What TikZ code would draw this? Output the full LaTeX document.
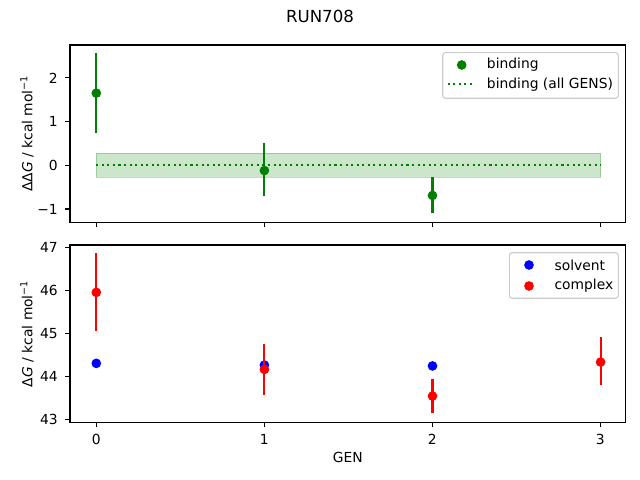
\documentclass[tikz,border=0pt]{standalone}
\usepackage{fontspec}
\setmainfont{DejaVu Sans}
\usetikzlibrary{positioning}
\definecolor{mplgreen}{HTML}{008000}
\definecolor{mplblue}{HTML}{0000FF}
\definecolor{mplred}{HTML}{FF0000}
\definecolor{legedge}{HTML}{CCCCCC}
\tikzset{%
	axframe/.style  = {line width=0.8pt, black},
	axtick/.style   = {line width=0.8pt, black},
	yticklab/.style = {anchor=east, inner sep=0pt, font=\fontsize{10}{12}\selectfont},
	xticklab/.style = {anchor=north, inner sep=0pt, font=\fontsize{10}{12}\selectfont},
	axlab/.style    = {inner sep=0pt, font=\fontsize{10}{12}\selectfont},
	errbar/.style   = {line width=1.5pt},
	datadot/.style  = {circle, fill, inner sep=0pt, minimum size=7pt},
	legbox/.style   = {draw=legedge, line width=0.8pt, rounded corners=2pt, fill=white, fill opacity=0.8},
	legtext/.style  = {anchor=west, inner sep=0pt, font=\fontsize{10}{12}\selectfont},
}

\begin{document}
\begin{tikzpicture}[x=0.01in, y=-0.01in]
	\useasboundingbox (0,0) rectangle (640,480);
	\node[axlab, font=\fontsize{12}{14}\selectfont] (title) at (320,16) {RUN708};
	
	% top panel: binding
	\begin{scope}[shift={(96.3,165.3)}, x=1.68in, y=0.437in]
		\draw[draw=mplgreen, fill=mplgreen, draw opacity=0.25, fill opacity=0.2] (0,-0.27) rectangle (3,0.27);
		\draw[mplgreen, line width=1.5pt, dash pattern=on 1.5pt off 2.5pt] (0,0) -- (3,0);
		\draw[errbar, mplgreen] (0,0.74) -- (0,2.56);
		\draw[errbar, mplgreen] (1,-0.70) -- (1,0.50);
		\draw[errbar, mplgreen] (2,-1.10) -- (2,-0.26);
		\node[datadot, mplgreen] (bind0) at (0,1.65) {};
		\node[datadot, mplgreen] (bind1) at (1,-0.12) {};
		\node[datadot, mplgreen] (bind2) at (2,-0.69) {};
	\end{scope}
	\draw[axframe] (70,45) rectangle (625.7,222.3);
	\draw[axtick] (96.3,222.3) -- ++(0,4.9);
	\draw[axtick] (264.3,222.3) -- ++(0,4.9);
	\draw[axtick] (432.3,222.3) -- ++(0,4.9);
	\draw[axtick] (600.3,222.3) -- ++(0,4.9);
	\draw[axtick] (70,77.9) -- ++(-4.9,0) node[yticklab, left=4.9pt] (tt2) {2};
	\draw[axtick] (70,121.6) -- ++(-4.9,0) node[yticklab, left=4.9pt] (tt1) {1};
	\draw[axtick] (70,165.3) -- ++(-4.9,0) node[yticklab, left=4.9pt] (tt0) {0};
	\draw[axtick] (70,209.0) -- ++(-4.9,0) node[yticklab, left=4.9pt] (ttm1) {−1};
	\node[axlab, rotate=90] (ylabtop) at (27,133.6) {ΔΔ\textit{G} / kcal mol\textsuperscript{−1}};
	
	\draw[legbox] (442.7,52.7) rectangle (618.3,98.3);
	\node[datadot, mplgreen] (legbind) at (461.7,65) {};
	\node[legtext] (legbindtxt) at (486.7,65) {binding};
	\draw[mplgreen, line width=1.5pt, dash pattern=on 1.5pt off 2.5pt] (447.7,84.3) -- (475,84.3);
	\node[legtext] (legalltxt) at (486.7,84.3) {binding (all GENS)};
	
	% bottom panel: solvent and complex
	\begin{scope}[shift={(96.3,419.3)}, x=1.68in, y=0.43in]
		\node[datadot, mplblue] (solv0) at (0,1.30) {};
		\node[datadot, mplblue] (solv1) at (1,1.26) {};
		\node[datadot, mplblue] (solv2) at (2,1.24) {};
		\draw[errbar, mplred] (0,2.06) -- (0,3.86);
		\draw[errbar, mplred] (1,0.57) -- (1,1.75);
		\draw[errbar, mplred] (2,0.14) -- (2,0.93);
		\draw[errbar, mplred] (3,0.79) -- (3,1.91);
		\node[datadot, mplred] (cplx0) at (0,2.95) {};
		\node[datadot, mplred] (cplx1) at (1,1.16) {};
		\node[datadot, mplred] (cplx2) at (2,0.54) {};
		\node[datadot, mplred] (cplx3) at (3,1.33) {};
	\end{scope}
	\draw[axframe] (70,245) rectangle (625.7,422.3);
	\draw[axtick] (96.3,422.3) -- ++(0,4.9) node[xticklab, below=4.9pt] (bt0) {0};
	\draw[axtick] (264.3,422.3) -- ++(0,4.9) node[xticklab, below=4.9pt] (bt1) {1};
	\draw[axtick] (432.3,422.3) -- ++(0,4.9) node[xticklab, below=4.9pt] (bt2) {2};
	\draw[axtick] (600.3,422.3) -- ++(0,4.9) node[xticklab, below=4.9pt] (bt3) {3};
	\draw[axtick] (70,247.3) -- ++(-4.9,0) node[yticklab, left=4.9pt] (by47) {47};
	\draw[axtick] (70,290.3) -- ++(-4.9,0) node[yticklab, left=4.9pt] (by46) {46};
	\draw[axtick] (70,333.3) -- ++(-4.9,0) node[yticklab, left=4.9pt] (by45) {45};
	\draw[axtick] (70,376.3) -- ++(-4.9,0) node[yticklab, left=4.9pt] (by44) {44};
	\draw[axtick] (70,419.3) -- ++(-4.9,0) node[yticklab, left=4.9pt] (by43) {43};
	\node[axlab, rotate=90] (ylabbot) at (27,333.6) {Δ\textit{G} / kcal mol\textsuperscript{−1}};
	\node[axlab] (xlab) at (347.9,457.7) {GEN};
	
	\draw[legbox] (509.3,252.7) rectangle (618.3,298.3);
	\node[datadot, mplblue] (legsolv) at (529,265) {};
	\node[legtext] (legsolvtxt) at (554.3,265) {solvent};
	\node[datadot, mplred] (legcplx) at (529,286) {};
	\node[legtext] (legcplxtxt) at (554.3,286) {complex};
\end{tikzpicture}
\end{document}
